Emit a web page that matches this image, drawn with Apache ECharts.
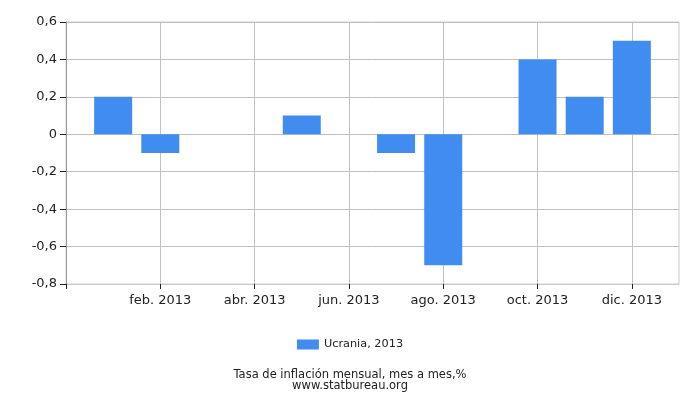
<!DOCTYPE html>
<html><head><meta charset="utf-8">
<script src="https://cdn.jsdelivr.net/npm/echarts@6/dist/echarts.min.js"></script>
<style>html,body{margin:0;padding:0;background:#fff}#c{width:700px;height:400px}</style>
</head><body><div id="c"></div>
<script>
const months = [1,2,3,4,5,6,7,8,9,10,11,12];
const values = [0.2,-0.1,0,0,0.1,0,-0.1,-0.7,0,0.4,0.2,0.5];
const tickValues = [0,2,4,6,8,10,12];
const tickLabels = {2:'feb. 2013',4:'abr. 2013',6:'jun. 2013',8:'ago. 2013',10:'oct. 2013',12:'dic. 2013'};
const seriesName = 'Ucrania, 2013';
const titleText = 'Tasa de inflación mensual, mes a mes,%';
const subText = 'www.statbureau.org';

const chart = echarts.init(document.getElementById('c'));
const font = 'DejaVu Sans';
chart.setOption({
  animation:false,
  textStyle:{fontFamily:font},
  title:{text:titleText+'\n'+subText,left:'center',top:365,
    textStyle:{fontFamily:font,fontSize:11.5,fontWeight:'normal',color:'#222',lineHeight:11}},
  legend:{data:[seriesName],top:334,left:'center',itemWidth:22,itemHeight:10,itemGap:5,
    textStyle:{fontFamily:font,fontSize:11.3,color:'#222'},icon:'rect'},
  grid:{left:66,right:21,top:22,bottom:116,show:true,borderColor:'#ccc',borderWidth:1},
  xAxis:{type:'value',min:0,max:13,interval:2,
    axisLine:{show:true,onZero:false,lineStyle:{color:'#c8c8c8'}},
    axisTick:{show:true,length:5,customValues:tickValues,lineStyle:{color:'#222'}},
    splitLine:{show:true,lineStyle:{color:'#c0c0c0'}},
    axisLabel:{fontFamily:font,fontSize:13,color:'#222',margin:10,customValues:tickValues,
      formatter:v=>tickLabels[v]||''}},
  yAxis:{type:'value',min:-0.8,max:0.6,interval:0.2,
    axisLine:{show:true,lineStyle:{color:'#999'}},
    axisTick:{show:true,length:6,lineStyle:{color:'#222'}},
    splitLine:{show:true,lineStyle:{color:'#c0c0c0'}},
    axisLabel:{fontFamily:font,fontSize:13,color:'#222',margin:9,
      formatter:v=>{const r=Math.round(v*10)/10;return r===0?'0':String(r).replace('.',',');}}},
  series:[{name:seriesName,type:'bar',barWidth:38,itemStyle:{color:'#418cf0'},
    data:months.map((m,i)=>[m,values[i]])}]
});
</script></body></html>
